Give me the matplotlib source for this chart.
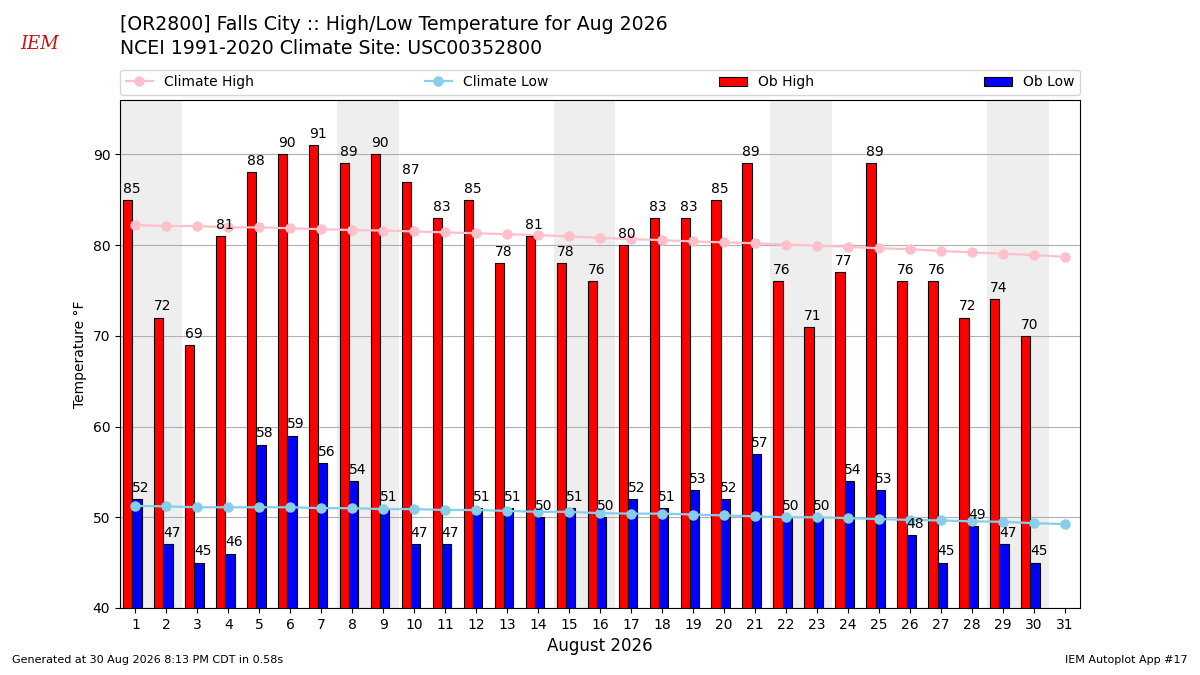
import matplotlib
matplotlib.use("Agg")
import matplotlib.pyplot as plt
import numpy as np

days = list(range(1, 32))
ob_high = [85, 72, 69, 81, 88, 90, 91, 89, 90, 87, 83, 85, 78, 81, 78, 76,
           80, 83, 83, 85, 89, 76, 71, 77, 89, 76, 76, 72, 74, 70]
ob_low = [52, 47, 45, 46, 58, 59, 56, 54, 51, 47, 47, 51, 51, 50, 51, 50,
          52, 51, 53, 52, 57, 50, 50, 54, 53, 48, 45, 49, 47, 45]
clim_high = [82.2, 82.1, 82.1, 81.95, 81.95, 81.85, 81.75, 81.65, 81.6, 81.5,
             81.4, 81.3, 81.2, 81.1, 80.95, 80.8, 80.65, 80.55, 80.4, 80.3,
             80.2, 80.05, 79.95, 79.8, 79.65, 79.55, 79.35, 79.2, 79.05, 78.9, 78.7]
clim_low = [51.25, 51.2, 51.1, 51.1, 51.1, 51.1, 51.0, 51.0, 50.9, 50.9,
            50.8, 50.8, 50.7, 50.6, 50.6, 50.45, 50.4, 50.4, 50.3, 50.2,
            50.1, 50.0, 50.0, 49.9, 49.8, 49.7, 49.65, 49.55, 49.5, 49.35, 49.25]
weekend_starts = [1, 8, 15, 22, 29]

plt.rcParams['font.family'] = ['DejaVu Sans']
fig = plt.figure(figsize=(12, 6.75), dpi=100)
ax = fig.add_axes([0.1, 0.0993, 0.8, 0.7527])

for w in weekend_starts:
    ax.axvspan(w - 0.5, w + 1.5, color='#eeeeee', zorder=0, lw=0)

nd = len(ob_high)
x = np.array(days[:nd])
bh = ax.bar(x - 0.4, ob_high, width=0.3, align='edge', color='red',
            edgecolor='black', linewidth=0.8, label='Ob High', zorder=2)
bl = ax.bar(x - 0.1, ob_low, width=0.3, align='edge', color='blue',
            edgecolor='black', linewidth=0.8, label='Ob Low', zorder=2)
for xi, v in zip(x, ob_high):
    ax.annotate(str(v), (xi - 0.12, v), xytext=(0, 3), textcoords='offset points',
                ha='center', va='bottom', fontsize=10, zorder=5)
for xi, v in zip(x, ob_low):
    ax.annotate(str(v), (xi + 0.17, v), xytext=(0, 3), textcoords='offset points',
                ha='center', va='bottom', fontsize=10, zorder=5)

lh, = ax.plot(days, clim_high, color='pink', marker='o', markersize=6.5, lw=1.6,
              label='Climate High', zorder=3)
ll, = ax.plot(days, clim_low, color='skyblue', marker='o', markersize=6.5, lw=1.6,
              label='Climate Low', zorder=3)

ax.set_xlim(0.5, 31.5)
ax.set_ylim(40, 96)
ax.set_xticks(days)
ax.set_yticks([40, 50, 60, 70, 80, 90])
ax.yaxis.grid(True, color='#b0b0b0', lw=0.8, zorder=1)
ax.set_axisbelow(True)
ax.set_ylabel('Temperature °F', fontsize=10)
ax.set_xlabel('August 2026', fontsize=12)
ax.tick_params(labelsize=10)

ax.legend(handles=[lh, ll, bh, bl], loc='lower left', ncol=4, mode='expand',
          bbox_to_anchor=(0, 1.01, 1, 0.05), fontsize=10, borderaxespad=0)

fig.text(0.1, 0.963, '[OR2800] Falls City :: High/Low Temperature for Aug 2026',
         fontsize=13.6, va='center', ha='left')
fig.text(0.1, 0.928, 'NCEI 1991-2020 Climate Site: USC00352800',
         fontsize=13.6, va='center', ha='left')
fig.text(0.01, 0.015, 'Generated at 30 Aug 2026 8:13 PM CDT in 0.58s', fontsize=8,
         ha='left', va='bottom')
fig.text(0.99, 0.015, 'IEM Autoplot App #17', fontsize=8, ha='right', va='bottom')
fig.text(0.017, 0.935, 'IEM', fontsize=13, color='#cc1111', family='DejaVu Serif',
         style='italic', ha='left', va='center')

fig.savefig('out.png', dpi=100)
